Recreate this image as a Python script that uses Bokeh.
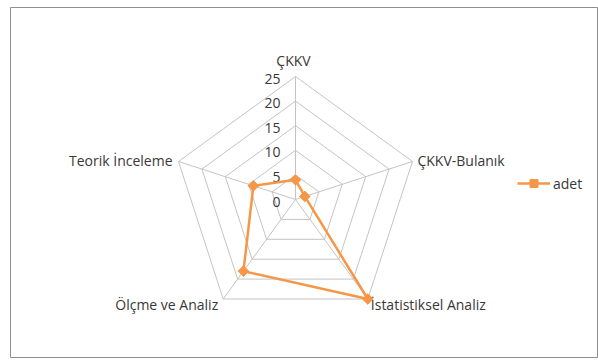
import numpy as np
from bokeh.plotting import figure
from bokeh.models import ColumnDataSource, Legend, LegendItem
from bokeh.core.properties import value
from bokeh.embed import file_html
from bokeh.resources import INLINE

# Radar chart: number of studies per method category
categories = ["ÇKKV", "ÇKKV-Bulanık", "İstatistiksel Analiz", "Ölçme ve Analiz", "Teorik İnceleme"]
adet = [4, 2, 25, 18, 9]
ring_values = [5, 10, 15, 20, 25]
tick_labels = ["0", "5", "10", "15", "20", "25"]
r_max = 25

FONT = value("Open Sans")
FONT_SIZE = "14px"
TEXT_COLOR = "#383838"
GRID_COLOR = "#c4c4c4"
ORANGE = "#f79646"

n = len(categories)
angles = np.pi / 2 - 2 * np.pi * np.arange(n) / n
cosa, sina = np.cos(angles), np.sin(angles)

# pixel scale of the polar frame: 123 px for the outer ring
px = 123 / r_max
frame_w, frame_h = 587, 350
cx_px, cy_px = 285, 192  # centre inside frame (from left / from top)

p = figure(
    width=598, height=360, output_backend="svg", toolbar_location=None,
    x_range=(-cx_px / px, (frame_w - cx_px) / px),
    y_range=(-(frame_h - cy_px) / px, cy_px / px),
    min_border_left=10, min_border_top=7, min_border_right=1, min_border_bottom=3,
    background_fill_color="white", border_fill_color="white",
)
p.axis.visible = False
p.grid.visible = False
p.outline_line_color = "#8f8f8f"
p.outline_line_width = 1

# concentric pentagon rings
ring_xs = [list(np.append(r * cosa, r * cosa[0])) for r in ring_values]
ring_ys = [list(np.append(r * sina, r * sina[0])) for r in ring_values]
p.multi_line(ring_xs, ring_ys, line_color=GRID_COLOR, line_width=1)

# spokes
p.multi_line([[0, r_max * c] for c in cosa], [[0, r_max * s] for s in sina],
             line_color=GRID_COLOR, line_width=1)

# radial tick labels along the vertical spoke
p.text(x=[0] * len(tick_labels), y=[0] + ring_values, text=tick_labels,
       x_offset=-15, y_offset=2, text_align="right", text_baseline="middle",
       text_font=FONT, text_font_size=FONT_SIZE, text_color=TEXT_COLOR)

# category labels around the outer ring
lab_x = list(r_max * cosa)
lab_y = list(r_max * sina)
aligns = ["center", "left", "left", "right", "right"]
xoffs = [-2, 5, 3, -5, -6]
yoffs = [-16, -1, 5, 5, -1]
src_lab = ColumnDataSource(dict(x=lab_x, y=lab_y, t=categories, a=aligns, xo=xoffs, yo=yoffs))
p.text(x="x", y="y", text="t", text_align="a", x_offset="xo", y_offset="yo",
       text_baseline="middle", text_font=FONT, text_font_size=FONT_SIZE,
       text_color=TEXT_COLOR, source=src_lab)

# data series
vx = [v * c for v, c in zip(adet, cosa)]
vy = [v * s for v, s in zip(adet, sina)]
line_r = p.line(vx + [vx[0]], vy + [vy[0]], line_color=ORANGE, line_width=2.5)
mark_r = p.scatter(vx, vy, marker="square", angle=np.pi / 4, size=7.5,
                   fill_color=ORANGE, line_color=ORANGE)

legend = Legend(items=[LegendItem(label="adet", renderers=[line_r, mark_r])],
                location=(507, 164), margin=0, padding=0, spacing=0,
                glyph_width=33, glyph_height=20, label_standoff=3,
                border_line_color=None, background_fill_alpha=0,
                label_text_font="Open Sans", label_text_font_size=FONT_SIZE,
                label_text_color=TEXT_COLOR)
p.add_layout(legend)

open("out.html", "w").write(file_html(p, INLINE))
